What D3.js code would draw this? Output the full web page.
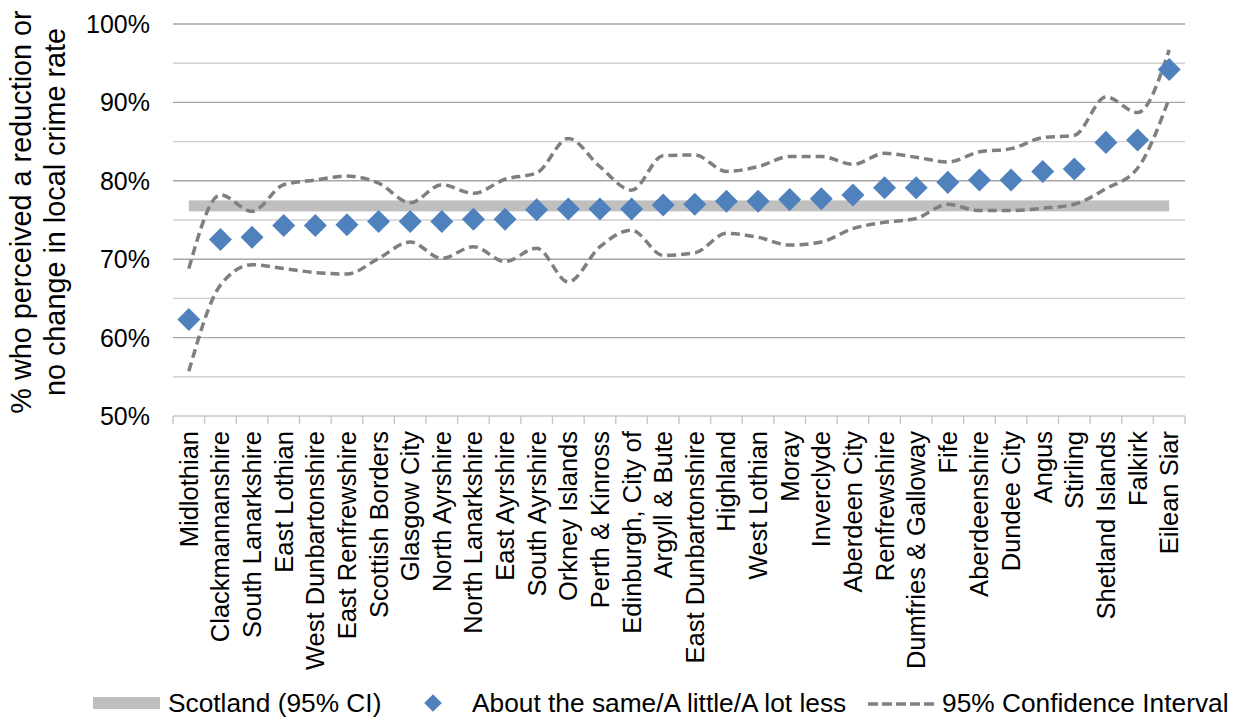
<!DOCTYPE html>
<html>
<head>
<meta charset="utf-8">
<script src="https://cdn.jsdelivr.net/npm/d3@7"></script>
<style>
  html, body { margin: 0; padding: 0; background: #fff; }
  svg { display: block; font-family: "Liberation Sans", Arial, sans-serif; }
</style>
</head>
<body>
<svg id="chart" width="1246" height="718"></svg>
<script>
// Local authority areas, ordered by share who perceived a reduction / no change
const categories = [
  "Midlothian", "Clackmannanshire", "South Lanarkshire", "East Lothian",
  "West Dunbartonshire", "East Renfrewshire", "Scottish Borders", "Glasgow City",
  "North Ayrshire", "North Lanarkshire", "East Ayrshire", "South Ayrshire",
  "Orkney Islands", "Perth & Kinross", "Edinburgh, City of", "Argyll & Bute",
  "East Dunbartonshire", "Highland", "West Lothian", "Moray", "Inverclyde",
  "Aberdeen City", "Renfrewshire", "Dumfries & Galloway", "Fife",
  "Aberdeenshire", "Dundee City", "Angus", "Stirling", "Shetland Islands",
  "Falkirk", "Eilean Siar"
];

// About the same / a little / a lot less (%)
const estimate = [
  62.3, 72.5, 72.8, 74.3, 74.3, 74.4, 74.8, 74.8, 74.8, 75.1, 75.1, 76.3,
  76.4, 76.4, 76.4, 76.9, 77.0, 77.4, 77.4, 77.6, 77.7, 78.2, 79.1, 79.1,
  79.8, 80.1, 80.1, 81.2, 81.5, 84.9, 85.2, 94.2
];

// 95% confidence interval bounds (%)
const ciUpper = [
  68.8, 78.2, 76.1, 79.5, 80.1, 80.6, 79.7, 77.2, 79.5, 78.4, 80.2, 81.0,
  85.4, 81.8, 78.8, 83.2, 83.3, 81.2, 81.8, 83.1, 83.1, 82.1, 83.5, 83.0,
  82.4, 83.7, 84.1, 85.5, 85.8, 90.7, 88.7, 96.7
];
const ciLower = [
  55.7, 66.7, 69.3, 68.8, 68.3, 68.1, 70.1, 72.2, 70.1, 71.6, 69.7, 71.4,
  67.1, 71.6, 73.7, 70.5, 70.8, 73.3, 72.8, 71.8, 72.2, 73.9, 74.7, 75.2,
  77.0, 76.2, 76.2, 76.5, 77.0, 79.0, 81.6, 90.5
];

// Scotland-wide 95% confidence interval (%)
const scotlandCI = [76.1, 77.5];

// Axis ticks
const yLabelTicks = [50, 60, 70, 80, 90, 100];
const yGridTicks = [50, 55, 60, 65, 70, 75, 80, 85, 90, 95, 100];

const legendItems = [
  "Scotland (95% CI)",
  "About the same/A little/A lot less",
  "95% Confidence Interval"
];

const svg = d3.select("#chart");
const plot = { left: 173, right: 1185, top: 24, bottom: 416 };

const x = d3.scaleBand().domain(categories).range([plot.left, plot.right]).padding(0);
const cx = c => x(c) + x.bandwidth() / 2;
const y = d3.scaleLinear().domain([50, 100]).range([plot.bottom, plot.top]);

// Gridlines: darker at every 10%, lighter at the 5% steps
svg.append("g")
  .selectAll("line")
  .data(yGridTicks.filter(v => v > 50))
  .join("line")
  .attr("x1", plot.left).attr("x2", plot.right)
  .attr("y1", d => y(d)).attr("y2", d => y(d))
  .attr("stroke", d => d % 10 === 0 ? "#a6a6a6" : "#d0d0d0")
  .attr("stroke-width", 1.4);

// Category axis with tick marks between categories
const xAxis = svg.append("g");
xAxis.append("line")
  .attr("x1", plot.left).attr("x2", plot.right)
  .attr("y1", y(50)).attr("y2", y(50))
  .attr("stroke", "#c8c8c8").attr("stroke-width", 1.4);
xAxis.selectAll("line.tick")
  .data(categories.map(c => x(c)).concat([plot.right]))
  .join("line")
  .attr("class", "tick")
  .attr("x1", d => d).attr("x2", d => d)
  .attr("y1", y(50)).attr("y2", y(50) + 8)
  .attr("stroke", "#c8c8c8").attr("stroke-width", 1.4);
xAxis.selectAll("text")
  .data(categories)
  .join("text")
  .attr("transform", d => `translate(${cx(d)},${y(50) + 15}) rotate(-90)`)
  .attr("dy", "0.35em")
  .attr("text-anchor", "end")
  .attr("font-size", 25.5)
  .attr("fill", "#000")
  .text(d => d);

// Value axis labels
svg.append("g")
  .selectAll("text")
  .data(yLabelTicks)
  .join("text")
  .attr("x", 150)
  .attr("y", d => y(d))
  .attr("dy", "0.36em")
  .attr("text-anchor", "end")
  .attr("font-size", 25)
  .attr("fill", "#000")
  .text(d => d + "%");

// Axis title (two lines)
const titleLines = ["% who perceived a reduction or", "no change in local crime rate"];
svg.append("g")
  .selectAll("text")
  .data(titleLines)
  .join("text")
  .attr("transform", (d, i) => `translate(${31 + i * 34},${212}) rotate(-90)`)
  .attr("text-anchor", "middle")
  .attr("font-size", 28.8)
  .attr("fill", "#000")
  .text(d => d);

// Scotland confidence band
const first = categories[0], last = categories[categories.length - 1];
svg.append("rect")
  .attr("x", cx(first))
  .attr("width", cx(last) - cx(first))
  .attr("y", y(scotlandCI[1]))
  .attr("height", y(scotlandCI[0]) - y(scotlandCI[1]))
  .attr("fill", "#bfbfbf");

// Confidence interval lines
const ciLine = d3.line()
  .x((d, i) => cx(categories[i]))
  .y(d => y(d))
  .curve(d3.curveMonotoneX);
[ciUpper, ciLower].forEach(series => {
  svg.append("path")
    .datum(series)
    .attr("d", ciLine)
    .attr("fill", "none")
    .attr("stroke", "#7f7f7f")
    .attr("stroke-width", 3.5)
    .attr("stroke-dasharray", "9,5");
});

// Diamond markers
const diamond = d3.symbol().type(d3.symbolSquare).size(265);
svg.append("g")
  .selectAll("path")
  .data(estimate)
  .join("path")
  .attr("d", diamond)
  .attr("transform", (d, i) => `translate(${cx(categories[i])},${y(d)}) rotate(45)`)
  .attr("fill", "#4f81bd");

// Legend
const lg = svg.append("g").attr("font-size", 26.3).attr("fill", "#000");
const ly = 703;
lg.append("rect").attr("x", 93).attr("y", ly - 6).attr("width", 67).attr("height", 12).attr("fill", "#bfbfbf");
lg.append("text").attr("x", 168).attr("y", ly).attr("dy", "0.35em").text(legendItems[0]);
lg.append("path")
  .attr("d", d3.symbol().type(d3.symbolSquare).size(155)())
  .attr("transform", `translate(433,${ly}) rotate(45)`)
  .attr("fill", "#4f81bd");
lg.append("text").attr("x", 472).attr("y", ly).attr("dy", "0.35em").text(legendItems[1]);
lg.append("line")
  .attr("x1", 868).attr("x2", 938).attr("y1", ly + 1).attr("y2", ly + 1)
  .attr("stroke", "#7f7f7f").attr("stroke-width", 3.5).attr("stroke-dasharray", "10,4");
lg.append("text").attr("x", 942).attr("y", ly).attr("dy", "0.35em").text(legendItems[2]);
</script>
</body>
</html>
